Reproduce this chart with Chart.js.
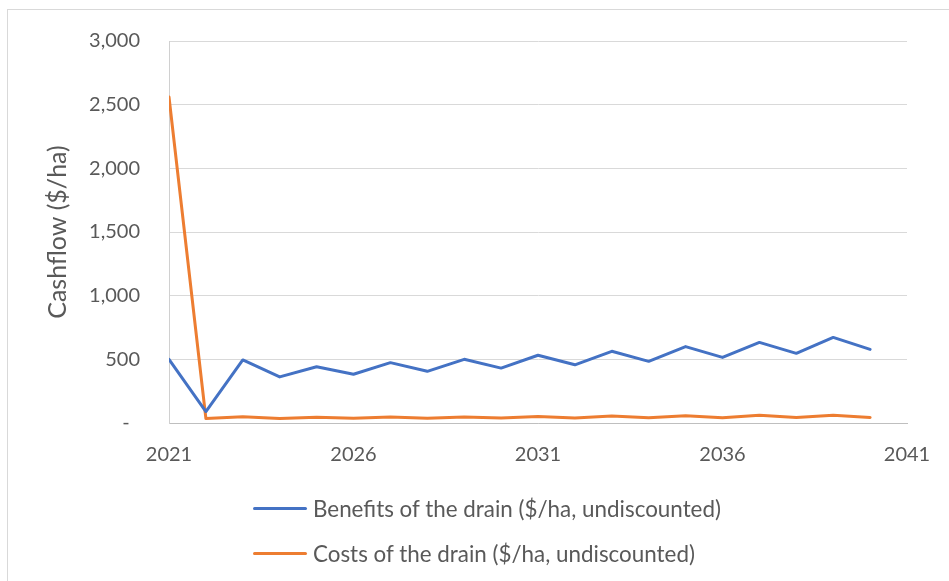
<!DOCTYPE html>
<html>
<head>
<meta charset="utf-8">
<script src="https://cdn.jsdelivr.net/npm/chart.js@4/dist/chart.umd.min.js"></script>
<style>
  html, body { margin: 0; padding: 0; background: #fff; overflow: hidden; }
  #frame { position: absolute; left: 7px; top: 9px; width: 1000px; height: 1000px; border: 1px solid #d9d9d9; }
  #wrap { position: absolute; left: 0; top: 0; width: 949px; height: 581px; }
  #legend { position: absolute; left: 253px; top: 486px; font-family: Lato, sans-serif; font-size: 22.4px; color: #595959; }
  #legend .row { display: flex; align-items: center; height: 45px; }
  #legend .swatch { display: inline-block; width: 54px; height: 3px; margin-right: 6px; border-radius: 2px; }
</style>
</head>
<body>
<div id="frame"></div>
<div id="wrap"><canvas id="cashflowChart" width="949" height="581"></canvas></div>
<div id="legend"></div>
<script>
let years = [2021, 2022, 2023, 2024, 2025, 2026, 2027, 2028, 2029, 2030,
             2031, 2032, 2033, 2034, 2035, 2036, 2037, 2038, 2039, 2040];
let benefits = [500, 90, 495, 362, 442, 383, 474, 406, 500, 431,
                532, 457, 563, 484, 600, 515, 633, 547, 672, 578];
let costs = [2560, 35, 50, 36, 45, 37, 47, 38, 48, 40,
             52, 39, 55, 42, 57, 42, 60, 44, 60, 44];
let seriesNames = ["Benefits of the drain ($/ha, undiscounted)", "Costs of the drain ($/ha, undiscounted)"];
let seriesColors = ["#4472C4", "#ED7D31"];
let yTicks = [0, 500, 1000, 1500, 2000, 2500, 3000];
let xTicks = [2021, 2026, 2031, 2036, 2041];

function toPoints(values) {
    return years.map((yr, i) => ({x: yr, y: values[i]}));
}

const textColor = "#595959";
const fontFamily = "Lato, sans-serif";

let chart = new Chart(document.getElementById("cashflowChart"), {
    type: "line",
    data: {
        datasets: [
            {label: seriesNames[0], data: toPoints(benefits), borderColor: seriesColors[0], backgroundColor: seriesColors[0]},
            {label: seriesNames[1], data: toPoints(costs), borderColor: seriesColors[1], backgroundColor: seriesColors[1]}
        ]
    },
    options: {
        responsive: false,
        animation: false,
        layout: {padding: {left: 20, right: 42, top: 39, bottom: 109}},
        elements: {
            line: {borderWidth: 3, tension: 0, borderJoinStyle: "round", borderCapStyle: "round"},
            point: {radius: 0, hoverRadius: 0}
        },
        plugins: {legend: {display: false}, tooltip: {enabled: false}},
        scales: {
            x: {
                type: "linear",
                min: xTicks[0],
                max: xTicks[xTicks.length - 1],
                afterBuildTicks: (scale) => { scale.ticks = xTicks.map(v => ({value: v})); },
                afterFit: (scale) => { scale.height = 49; },
                grid: {display: false},
                border: {display: true, color: "#bfbfbf", width: 1},
                ticks: {
                    color: textColor,
                    font: {family: fontFamily, size: 20},
                    padding: 12,
                    maxRotation: 0,
                    callback: (v) => String(v)
                }
            },
            y: {
                min: 0,
                max: 3000,
                afterBuildTicks: (scale) => { scale.ticks = yTicks.map(v => ({value: v})); },
                afterFit: (scale) => { scale.width = 149; },
                grid: {color: "#d9d9d9", drawTicks: false},
                border: {display: true, color: "#d0d0d0", width: 1},
                ticks: {
                    color: textColor,
                    font: {family: fontFamily, size: 20},
                    padding: 29,
                    callback: (v) => v === 0 ? "-  " : v.toLocaleString("en-US")
                },
                title: {
                    display: true,
                    text: "Cashflow ($/ha)",
                    color: textColor,
                    font: {family: fontFamily, size: 25},
                    padding: {top: 23, bottom: 0}
                }
            }
        }
    }
});

// legend built from the chart's own datasets
let legendBox = document.getElementById("legend");
chart.data.datasets.forEach(ds => {
    let row = document.createElement("div");
    row.className = "row";
    let swatch = document.createElement("span");
    swatch.className = "swatch";
    swatch.style.background = ds.borderColor;
    let label = document.createElement("span");
    label.textContent = ds.label;
    row.appendChild(swatch);
    row.appendChild(label);
    legendBox.appendChild(row);
});
</script>
</body>
</html>
